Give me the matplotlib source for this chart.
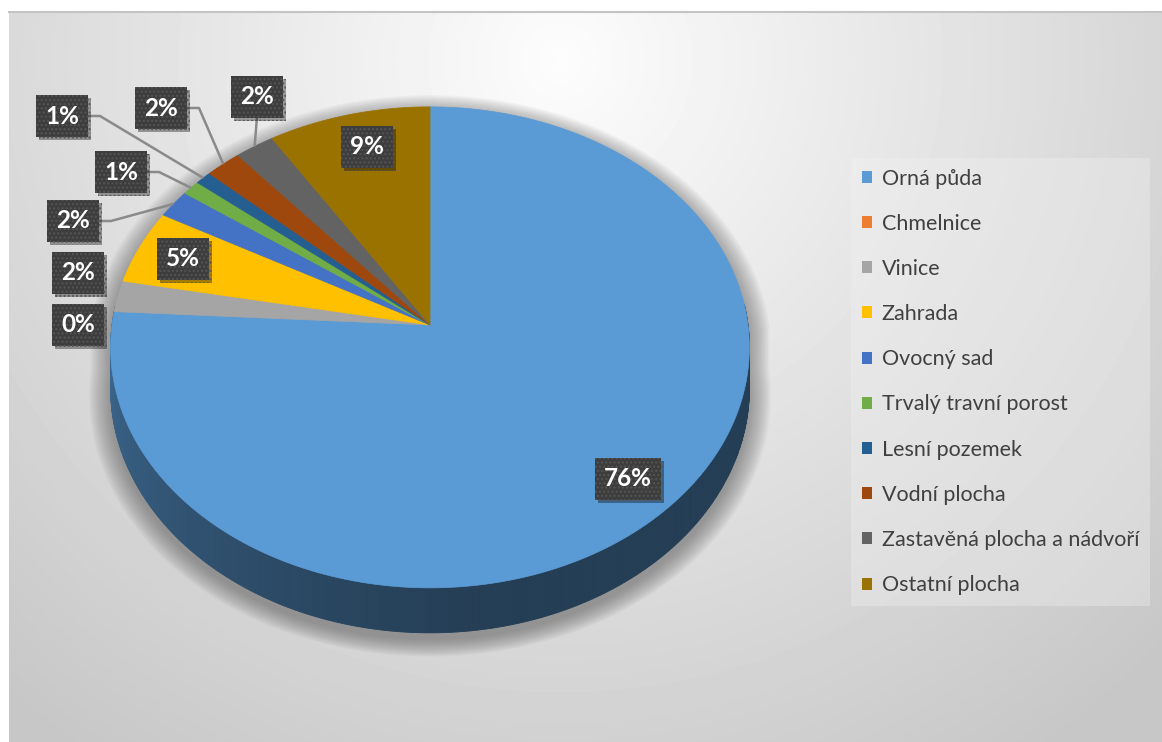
import numpy as np
import matplotlib.pyplot as plt
from matplotlib.patches import Polygon, Patch
from matplotlib.collections import PolyCollection
import matplotlib.colors as mcolors
import matplotlib.patheffects as pe

# ---------------- data ----------------
categories = ["Orná půda", "Chmelnice", "Vinice", "Zahrada", "Ovocný sad",
              "Trvalý travní porost", "Lesní pozemek", "Vodní plocha",
              "Zastavěná plocha a nádvoří", "Ostatní plocha"]
shares = [75.9, 0.0, 2.1, 5.0, 1.9, 1.0, 0.9, 2.0, 2.2, 9.0]
colors = ["#5b9bd5", "#ed7d31", "#a5a5a5", "#ffc000", "#4472c4",
          "#70ad47", "#255e91", "#9e480e", "#636363", "#9a7200"]

# label box centres in pixels (picked by eye) and leader style
label_xy = [(628, 479), (78, 273 + 52), (78, 273), (183, 259), (73, 221),
            (121, 172), (62, 116), (161, 108), (257, 97), (367, 147)]
leader = [None, None, None, None, "side", "side", "side", "side", "down", None]

# ---------------- pie geometry (perspective 3D) ----------------
W, H = 1162, 742
CX, CY = 430, 325
RX, RY = 318, 238.4
PERSP = 0.093
DEPTH = 40.8


def rim(theta, r=1.0, drop=0.0):
    t = np.radians(theta)
    u, v = r * np.sin(t), r * np.cos(t)
    w = 1 + PERSP * v
    return CX + RX * u / w, CY - RY * v / w + drop / w


fig = plt.figure(figsize=(W / 100, H / 100), dpi=100)
ax = fig.add_axes([0, 0, 1, 1])
ax.set_xlim(0, W)
ax.set_ylim(H, 0)
ax.axis("off")

# chart area background (radial grey gradient)
gx, gy = np.meshgrid(np.arange(9, W), np.arange(11, H))
d = np.sqrt(((gx - 560) / 760.0) ** 2 + ((gy - 60) / 760.0) ** 2)
bg = 0.99 - 0.19 * np.clip(d, 0, 1.1)
ax.imshow(bg, cmap="gray", vmin=0, vmax=1, extent=[9, W, H, 11],
          zorder=0, interpolation="bilinear", aspect="auto")
ax.plot([9, W], [11.5, 11.5], color="#c4c4c4", lw=1.5, zorder=1)

# soft shadow under the pie
back = np.linspace(270, 450, 120)
front = np.linspace(90, 270, 120)
sx = np.concatenate([rim(back)[0], rim(front, drop=DEPTH)[0]])
sy = np.concatenate([rim(back)[1], rim(front, drop=DEPTH)[1]])
for k in range(16):
    f = 1 + 0.0045 * k
    px = CX + (sx - CX) * f
    py = CY + 60 + (sy - CY - 60) * f + 7
    ax.add_patch(Polygon(np.column_stack([px, py]), closed=True,
                         facecolor="#5a5a5a", edgecolor="none",
                         alpha=0.045, zorder=2))

edges = np.concatenate([[0], np.cumsum(shares)]) / sum(shares) * 360

# side wall
quads, qcols = [], []
for i in range(len(shares)):
    a0, a1 = edges[i], edges[i + 1]
    if a1 - a0 <= 0:
        continue
    n = max(2, int((a1 - a0) / 0.5))
    th = np.linspace(a0, a1, n + 1)
    base = np.array(mcolors.to_rgb(colors[i]))
    for j in range(n):
        t0, t1 = th[j], th[j + 1]
        tm = (t0 + t1) / 2 % 360
        if tm < 85 or tm > 275:
            continue
        s = np.clip((tm - 90) / 180, 0, 1)
        fac = 0.40 + 0.27 * np.clip((s - 0.45) / 0.55, 0, 1) ** 1.2
        x0, y0 = rim(t0)
        x1, y1 = rim(t1)
        x2, y2 = rim(t1, drop=DEPTH)
        x3, y3 = rim(t0, drop=DEPTH)
        quads.append([(x0, y0), (x1, y1), (x2, y2), (x3, y3)])
        qcols.append(base * fac)
ax.add_collection(PolyCollection(quads, facecolors=qcols, edgecolors=qcols,
                                 linewidths=0.6, zorder=3))

# top face
for i in range(len(shares)):
    a0, a1 = edges[i], edges[i + 1]
    if a1 - a0 <= 0:
        continue
    th = np.linspace(a0, a1, max(3, int((a1 - a0) * 2)))
    xs, ys = rim(th)
    pts = np.column_stack([np.r_[CX, xs], np.r_[CY, ys]])
    ax.add_patch(Polygon(pts, closed=True, facecolor=colors[i],
                         edgecolor=colors[i], lw=0.5, zorder=4))

# leader lines
for i, style in enumerate(leader):
    if style is None:
        continue
    mid = (edges[i] + edges[i + 1]) / 2
    ex, ey = rim(mid)
    bx, by = label_xy[i]
    if style == "side":
        xs = [bx + 26, bx + 38, ex]
        ys = [by, by, ey]
    else:
        xs = [bx, ex]
        ys = [by + 20, ey]
    ax.plot(xs, ys, color="#8a8a8a", lw=1.8, zorder=5,
            solid_capstyle="butt")

# data labels
pct = np.array(shares) / sum(shares) * 100
for i, (bx, by) in enumerate(label_xy):
    t = ax.text(bx, by, f"{pct[i]:.0f}%", ha="center", va="center",
                fontsize=17.5, fontweight="bold", family="Lato", color="white",
                zorder=7,
                bbox=dict(boxstyle="square,pad=0.38", fc="#3d3d3d",
                          ec="#555555", lw=0, hatch="...."))
    t.get_bbox_patch().set_path_effects(
        [pe.SimplePatchShadow(offset=(2, -2), shadow_rgbFace="k", alpha=0.35),
         pe.Normal()])

# legend
handles = [Patch(facecolor=c, edgecolor="none") for c in colors]
leg = ax.legend(handles, categories, loc="upper left",
                bbox_to_anchor=(840 / W, 1 - 147 / H),
                bbox_transform=fig.transFigure,
                prop={"family": "Lato", "size": 15.5},
                handlelength=0.48, handleheight=0.48, handletextpad=0.45,
                labelspacing=1.17, borderpad=0.5, frameon=True,
                fancybox=False, facecolor="#f2f2f2", edgecolor="none",
                framealpha=0.35)
for txt in leg.get_texts():
    txt.set_color("#404040")

fig.savefig("out.png", dpi=100, facecolor="white")
